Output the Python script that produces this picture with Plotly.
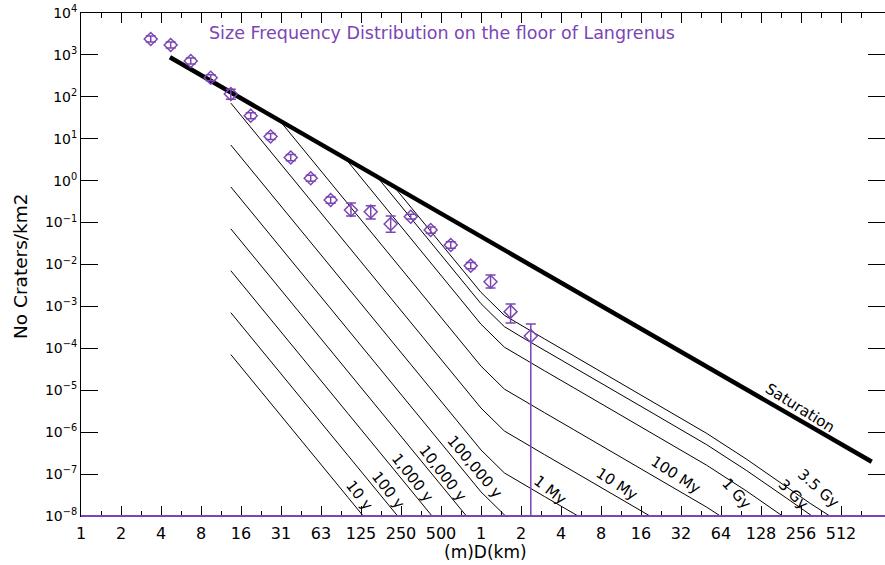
import numpy as np
import plotly.graph_objects as go

PURPLE = "#7b45b5"
FONT = "DejaVu Sans"

# ---- measured crater counts (D in km, cumulative N per km^2)
diam_km = [0.00327, 0.00462, 0.00654, 0.00924, 0.0131, 0.0185, 0.0261, 0.0370,
           0.0523, 0.0739, 0.105, 0.148, 0.209, 0.296, 0.418, 0.592, 0.837,
           1.18, 1.67, 2.37]
n_cum = [2400, 1725, 716, 286, 117, 35.5, 11.3, 3.57, 1.14, 0.346, 0.200,
         0.182, 0.0927, 0.138, 0.0665, 0.0292, 0.00938, 0.00389, 0.00075,
         0.000197]
n_upper = [2830, 2040, 845, 338, 151, 41.9, 13.3, 4.2, 1.35, 0.41, 0.294,
           0.253, 0.1435, 0.158, 0.078, 0.035, 0.0112, 0.00562, 0.00114,
           0.000381]
n_lower = [2030, 1460, 607, 242, 87.3, 30.1, 9.6, 3.0, 0.97, 0.29, 0.1435,
           0.122, 0.0587, 0.121, 0.056, 0.0245, 0.0079, 0.00275, 0.000403,
           1e-9]

# ---- saturation (log10 N)
sat_d = [0.00456, 0.01, 0.1, 1, 10, 100, 872]
sat_logn = [2.943, 2.320, 0.493, -1.334, -3.161, -4.988, -6.705]

# ---- isochrons (D km, log10 N)
iso_10y_d = [0.0131, 0.02, 0.05, 0.1, 0.2]
iso_10y_n = [-4.149, -4.853, -6.396, -7.560, -8.724]
iso_100y_d = [0.0131, 0.02, 0.05, 0.1, 0.2, 0.5]
iso_100y_n = [-3.149, -3.853, -5.396, -6.560, -7.724, -9.261]
iso_1ky_d = [0.0131, 0.02, 0.05, 0.1, 0.2, 0.5]
iso_1ky_n = [-2.149, -2.853, -4.396, -5.560, -6.724, -8.261]
iso_10ky_d = [0.0131, 0.02, 0.05, 0.1, 0.2, 0.5, 1]
iso_10ky_n = [-1.149, -1.853, -3.396, -4.560, -5.724, -7.261, -8.425]
iso_100ky_d = [0.0131, 0.02, 0.05, 0.1, 0.2, 0.5, 1, 1.5, 2]
iso_100ky_n = [-0.149, -0.853, -2.396, -3.560, -4.724, -6.261, -7.425,
               -7.973, -8.212]
iso_1my_d = [0.0131, 0.02, 0.05, 0.1, 0.2, 0.5, 1, 1.5, 2, 3, 5, 10]
iso_1my_n = [0.851, 0.147, -1.396, -2.560, -3.724, -5.261, -6.425, -6.973,
             -7.212, -7.534, -7.942, -8.495]
iso_10my_d = [0.0131, 0.02, 0.05, 0.1, 0.2, 0.5, 1, 1.5, 2, 3, 5, 10, 20, 50]
iso_10my_n = [1.851, 1.147, -0.396, -1.560, -2.724, -4.261, -5.425, -5.973,
              -6.212, -6.534, -6.942, -7.495, -8.053, -8.790]
iso_100my_d = [0.0307, 0.05, 0.1, 0.2, 0.5, 1, 1.5, 2, 3, 5, 10, 20, 50, 100]
iso_100my_n = [1.425, 0.604, -0.560, -1.724, -3.261, -4.425, -4.973, -5.212,
               -5.534, -5.942, -6.495, -7.053, -7.790, -8.408]
iso_1gy_d = [0.0947, 0.2, 0.5, 1, 1.5, 2, 3, 5, 10, 20, 50, 100, 200, 300]
iso_1gy_n = [0.541, -0.724, -2.261, -3.425, -3.973, -4.212, -4.534, -4.942,
             -5.495, -6.053, -6.790, -7.408, -8.067, -8.458]
iso_3gy_d = [0.1637, 0.2, 0.5, 1, 1.5, 2, 3, 5, 10, 20, 50, 100, 200, 300, 500]
iso_3gy_n = [0.107, -0.234, -1.771, -2.935, -3.483, -3.722, -4.044, -4.452,
             -5.005, -5.563, -6.300, -6.918, -7.577, -7.968, -8.421]
iso_35gy_d = [0.2212, 0.5, 1, 1.5, 2, 3, 5, 10, 20, 50, 100, 200, 300, 500]
iso_35gy_n = [-0.141, -1.501, -2.665, -3.213, -3.452, -3.774, -4.182, -4.735,
              -5.293, -6.030, -6.648, -7.307, -7.698, -8.151]

isochrons = [
    (iso_10y_d, iso_10y_n), (iso_100y_d, iso_100y_n), (iso_1ky_d, iso_1ky_n),
    (iso_10ky_d, iso_10ky_n), (iso_100ky_d, iso_100ky_n),
    (iso_1my_d, iso_1my_n), (iso_10my_d, iso_10my_n),
    (iso_100my_d, iso_100my_n), (iso_1gy_d, iso_1gy_n),
    (iso_3gy_d, iso_3gy_n), (iso_35gy_d, iso_35gy_n),
]

# curve labels: text, x/y in paper fraction, angle
iso_labels = [
    ("10 y", 0.3458, 0.0417, 52), ("100 y", 0.3818, 0.0517, 52),
    ("1,000 y", 0.4126, 0.0755, 52), ("10,000 y", 0.4499, 0.0861, 52),
    ("100,000 y", 0.4900, 0.0980, 50), ("1 My", 0.5833, 0.0517, 38),
    ("10 My", 0.6667, 0.0636, 33), ("100 My", 0.7400, 0.0815, 33),
    ("1 Gy", 0.8159, 0.0437, 48), ("3 Gy", 0.8856, 0.0437, 45),
    ("3.5 Gy", 0.9167, 0.0557, 42), ("Saturation", 0.8943, 0.2147, 32),
]

x_pow2 = list(range(-10, 10))
x_ticktext = ["1", "2", "4", "8", "16", "31", "63", "125", "250", "500",
              "1", "2", "4", "8", "16", "32", "64", "128", "256", "512"]
y_exp = list(range(4, -9, -1))

fig = go.Figure()

for d, ln in isochrons:
    fig.add_trace(go.Scatter(x=d, y=np.power(10.0, ln), mode="lines",
                             line=dict(color="black", width=1),
                             hoverinfo="skip"))

fig.add_trace(go.Scatter(x=sat_d, y=np.power(10.0, sat_logn), mode="lines",
                         line=dict(color="black", width=4.5)))

nc = np.array(n_cum)
fig.add_trace(go.Scatter(
    x=diam_km, y=n_cum, mode="markers",
    marker=dict(symbol="diamond-open", size=10, color=PURPLE,
                line=dict(width=1.5, color=PURPLE)),
    error_y=dict(type="data", symmetric=False,
                 array=list(np.array(n_upper) - nc),
                 arrayminus=list(nc - np.array(n_lower)),
                 color=PURPLE, thickness=1.5, width=5)))


def label(text, x, y, size, color="black", angle=0):
    return dict(text=text, x=x, y=y, xref="paper", yref="paper",
                xanchor="center", yanchor="middle", textangle=angle,
                showarrow=False, font=dict(family=FONT, size=size,
                                           color=color))


ann = [label(t, x, y, 15, angle=a) for t, x, y, a in iso_labels]
ann.append(label("Size Frequency Distribution on the floor of Langrenus",
                 0.4496, 0.960, 17.5, color=PURPLE))
ann.append(label("No Craters/km2", -0.0759, 0.497, 18.5, angle=-90))
ann.append(label("(m)D(km)", 0.5037, -0.0716, 17))

x0 = -10 * np.log10(2)
fig.update_layout(
    width=885, height=565,
    margin=dict(l=81, r=0, t=13, b=49, autoexpand=False),
    paper_bgcolor="white", plot_bgcolor="white",
    showlegend=False,
    annotations=ann,
    xaxis=dict(type="log", range=[x0, x0 + 20.1 * np.log10(2)],
               tickmode="array", tickvals=[2.0 ** k for k in x_pow2],
               ticktext=x_ticktext, ticks="inside", ticklen=10,
               tickwidth=1, tickcolor="black", showline=True,
               linecolor="black", mirror="ticks", showgrid=False,
               zeroline=False, automargin=False, ticklabelstandoff=3,
               ticklabeloverflow="allow",
               tickfont=dict(family=FONT, size=16, color="black"),
               minor=dict(tickmode="array",
                          tickvals=[2.0 ** (k + 0.5) for k in x_pow2],
                          ticks="inside", ticklen=5, tickcolor="black",
                          showgrid=False)),
    yaxis=dict(type="log", range=[-8, 4], tickmode="array",
               tickvals=[10.0 ** e for e in y_exp],
               ticktext=[f"10<sup>{str(e).replace('-', '−')}</sup>"
                         for e in y_exp],
               ticks="inside", ticklen=17, tickwidth=1, tickcolor="black",
               showline=True, linecolor="black", mirror="ticks",
               showgrid=False, zeroline=False, automargin=False,
               ticklabeloverflow="allow",
               tickfont=dict(family=FONT, size=14, color="black")),
    shapes=[dict(type="line", xref="paper", yref="paper", x0=0, x1=1,
                 y0=0, y1=0, line=dict(color=PURPLE, width=2),
                 layer="above")],
)

# drop the browser's default 8 px body margin so the figure fills the window
fig.write_html("out.html", config={"displayModeBar": False},
               post_script="document.body.style.margin='0';")
